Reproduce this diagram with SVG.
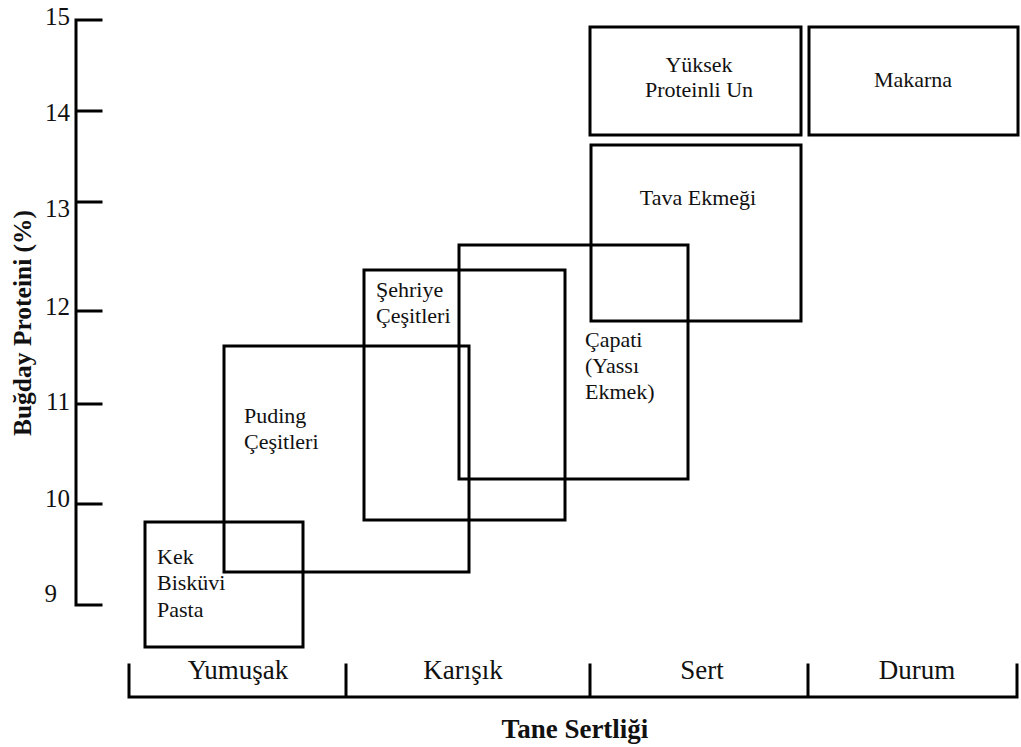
<svg xmlns="http://www.w3.org/2000/svg" width="1021" height="747" viewBox="0 0 1021 747">
<style>
.ax{fill:none;stroke:#000;stroke-width:3;stroke-linecap:square}
.box{fill:none;stroke:#000;stroke-width:3}
.t{font-family:'Liberation Serif','DejaVu Serif',serif;font-weight:normal;font-style:normal;fill:#111}
.num{font-size:25px;text-anchor:end}
.xl{font-size:27px;text-anchor:middle}
.bt{font-size:22px}
.c{text-anchor:middle}
.b{font-weight:bold}
</style>
<rect width="1021" height="747" fill="#fff"/>
<g id="y-axis">
<path class="ax" d="M76,20 V605 M76,20 H101 M76,111 H101 M76,202 H101 M76,311 H101 M76,404 H101 M76,504 H101 M76,605 H101"/>
<text class="t num" x="70" y="25">15</text>
<text class="t num" x="70" y="121">14</text>
<text class="t num" x="70" y="217">13</text>
<text class="t num" x="70" y="315">12</text>
<text class="t num" x="70" y="410">11</text>
<text class="t num" x="70" y="507">10</text>
<text class="t num" x="57" y="602">9</text>
<text class="t b" font-size="25.5" text-anchor="middle" transform="translate(31,323) rotate(-90)">Buğday Proteini (%)</text>
</g>
<g id="x-axis">
<path class="ax" d="M129,697 H1017 M129,665 V697 M346,665 V697 M590,665 V697 M808,665 V697 M1017,665 V697"/>
<text class="t xl" x="238" y="679">Yumuşak</text>
<text class="t xl" x="463" y="679">Karışık</text>
<text class="t xl" x="702" y="679">Sert</text>
<text class="t xl" x="917" y="679">Durum</text>
<text class="t b" font-size="27" text-anchor="middle" x="575" y="738">Tane Sertliği</text>
</g>
<g id="connectors"></g>
<g id="kek">
<rect class="box" x="145" y="522" width="158" height="125"/>
<text class="t bt" x="157" y="564">Kek</text>
<text class="t bt" x="157" y="590">Bisküvi</text>
<text class="t bt" x="157" y="617">Pasta</text>
</g>
<g id="puding">
<rect class="box" x="224" y="346" width="245" height="226"/>
<text class="t bt" x="244" y="423">Puding</text>
<text class="t bt" x="244" y="449">Çeşitleri</text>
</g>
<g id="sehriye">
<rect class="box" x="364" y="270" width="201" height="250"/>
<text class="t bt" x="376" y="297">Şehriye</text>
<text class="t bt" x="376" y="323">Çeşitleri</text>
</g>
<g id="capati">
<rect class="box" x="459" y="245" width="229" height="234"/>
<text class="t bt" x="585" y="347">Çapati</text>
<text class="t bt" x="585" y="373">(Yassı</text>
<text class="t bt" x="585" y="399">Ekmek)</text>
</g>
<g id="tava">
<rect class="box" x="591" y="145" width="210" height="176"/>
<text class="t bt c" x="698" y="205">Tava Ekmeği</text>
</g>
<g id="yuksek">
<rect class="box" x="590" y="27" width="211" height="108"/>
<text class="t bt c" x="699" y="72">Yüksek</text>
<text class="t bt c" x="699" y="97">Proteinli Un</text>
</g>
<g id="makarna">
<rect class="box" x="809" y="27" width="209" height="108"/>
<text class="t bt c" x="913" y="87">Makarna</text>
</g>
</svg>
